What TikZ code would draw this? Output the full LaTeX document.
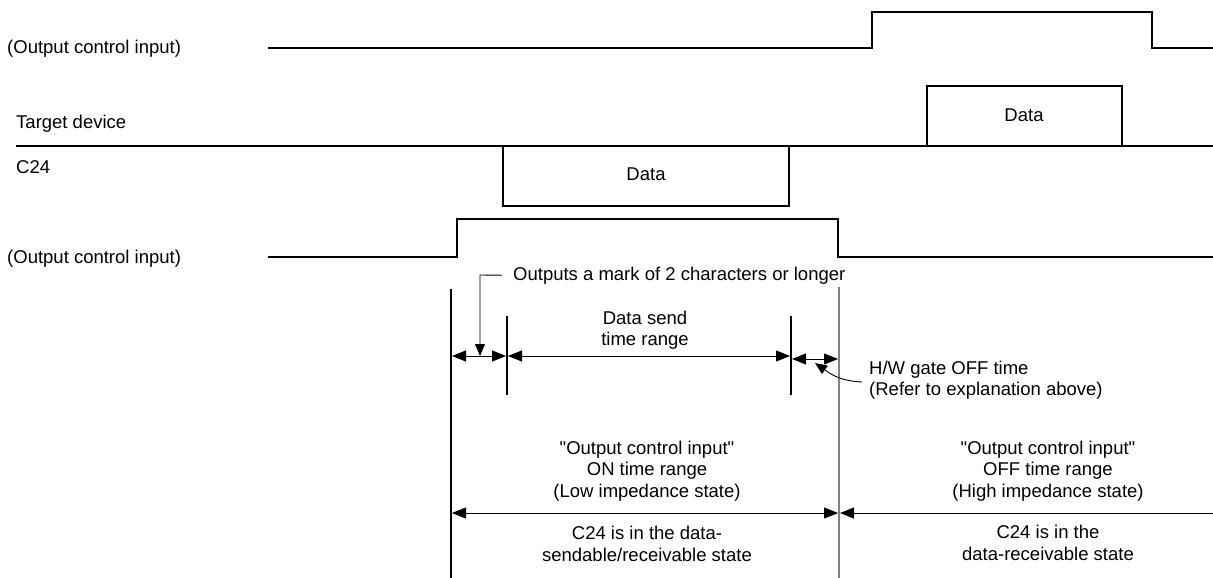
\documentclass[tikz,border=0pt]{standalone}
\usepackage{fontspec}
\setmainfont{Liberation Sans}[Ligatures=TeXOff]
\usetikzlibrary{arrows.meta}
\begin{document}
\begin{tikzpicture}[x=1pt,y=-1pt,
  sig/.style={line width=2pt, line join=miter},
  tick/.style={line width=1.8pt},
  tipA/.tip={Triangle[length=14pt,width=11pt]},
  dim/.style={line width=0.9pt, tipA-tipA},
  lead/.style={line width=0.9pt, -{Triangle[length=12pt,width=10pt]}},
  lbl/.style={font=\fontsize{18.5}{21.5}\selectfont, inner sep=0pt}]
\useasboundingbox (0,0) rectangle (1213,578);

% labels
\node[lbl, anchor=base west] (l1) at (7,54) {(Output control input)};
\node[lbl, anchor=base west] (l2) at (16,128) {Target device};
\node[lbl, anchor=base west] (l3) at (16,173) {C24};
\node[lbl, anchor=base west] (l4) at (7,263) {(Output control input)};

% top output control signal
\draw[sig] (268,48) -- (872,48) -- (872,12) -- (1152,12) -- (1152,48) -- (1214,48);
% shared line
\draw[sig] (16,146) -- (1214,146);
% target device data
\draw[sig] (927,146) -- (927,86) -- (1122,86) -- (1122,146);
\node[lbl] (d1) at (1024,115) {Data};
% C24 data
\draw[sig] (503,146) -- (503,206) -- (789,206) -- (789,146);
\node[lbl] (d2) at (646,174) {Data};
% bottom output control signal
\draw[sig] (268,257) -- (457,257) -- (457,219) -- (838,219) -- (838,257) -- (1214,257);

% vertical markers
\draw[line width=2pt] (451,289) -- (451,578);
\draw[tick] (507,316) -- (507,395);
\draw[tick] (791,316) -- (791,395);
\draw[gray, line width=1.3pt] (839,287) -- (839,578);

% dimension arrows
\draw[dim] (452,356) -- (506,356);
\draw[dim] (508,356) -- (790,356);
\draw[dim] (792,359) -- (838,359);
\draw[dim] (452,513) -- (838,513);
\draw[line width=0.9pt, -tipA] (1214,513) -- (840,513);

% annotations
\node[lbl, anchor=base west] (mark) at (513,280) {Outputs a mark of 2 characters or longer};
\draw[lead] (mark.west) ++(-11,0) coordinate (m0) -- (480,275) -- (480,356);
\node[lbl, align=center] (send) at (645,330) {Data send\\time range};
\node[lbl, anchor=west, align=left] (hw) at (869,380) {H/W gate OFF time\\(Refer to explanation above)};
\draw[lead] (862,382) .. controls (838,381) and (828,372) .. (815,363);

\node[lbl, align=center] (on) at (647,471) {"Output control input"\\ON time range\\(Low impedance state)};
\node[lbl, align=center] (onb) at (647,544) {C24 is in the data-\\sendable/receivable state};
\node[lbl, align=center] (off) at (1048,471) {"Output control input"\\OFF time range\\(High impedance state)};
\node[lbl, align=center] (offb) at (1048,543) {C24 is in the\\data-receivable state};
\end{tikzpicture}
\end{document}
